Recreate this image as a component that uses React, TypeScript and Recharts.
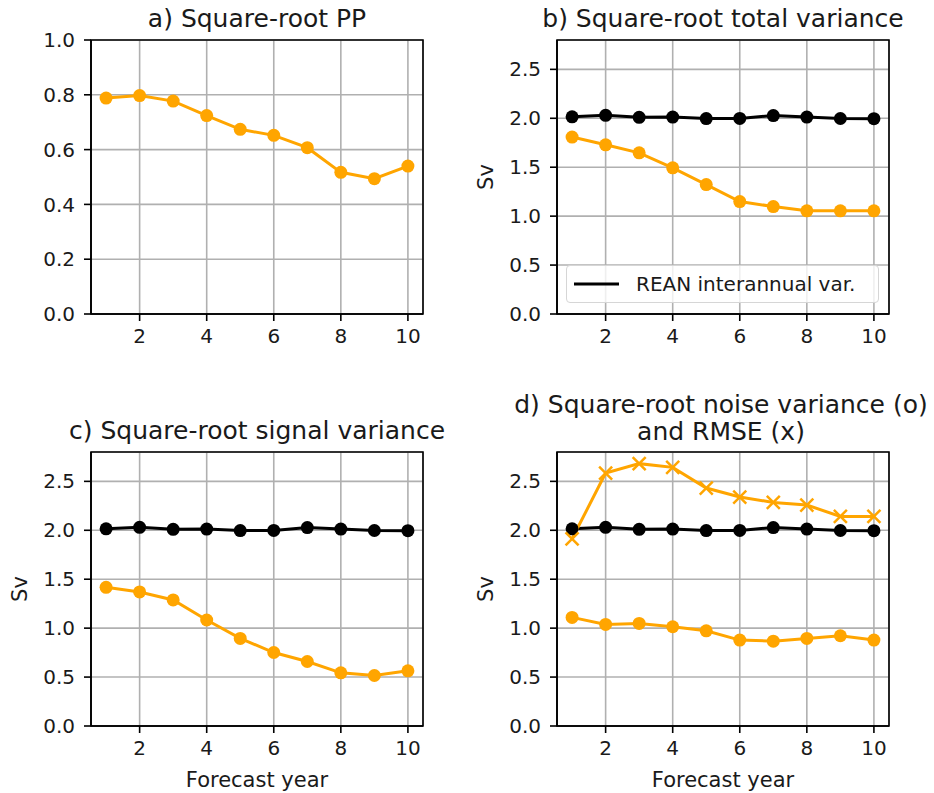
import React from 'react';
import { LineChart, Line, XAxis, YAxis, CartesianGrid, ReferenceArea } from 'recharts';

const years = [1, 2, 3, 4, 5, 6, 7, 8, 9, 10];
const sqrtPP = [0.788, 0.797, 0.777, 0.724, 0.674, 0.652, 0.607, 0.517, 0.494, 0.54];
const reanVar = [2.015, 2.03, 2.01, 2.012, 1.997, 1.999, 2.028, 2.012, 1.998, 1.996];
const totalVar = [1.808, 1.729, 1.647, 1.494, 1.323, 1.149, 1.098, 1.054, 1.054, 1.054];
const signalVar = [1.417, 1.37, 1.288, 1.083, 0.895, 0.751, 0.659, 0.543, 0.516, 0.564];
const noiseVar = [1.11, 1.038, 1.048, 1.014, 0.973, 0.878, 0.867, 0.895, 0.922, 0.878];
const rmse = [1.913, 2.585, 2.681, 2.643, 2.432, 2.34, 2.285, 2.258, 2.141, 2.141];

const xTicks = [2, 4, 6, 8, 10];
const ppTicks = [0, 0.2, 0.4, 0.6, 0.8, 1.0];
const svTicks = [0, 0.5, 1.0, 1.5, 2.0, 2.5];

const rows = years.map((y, i) => ({
  year: y,
  pp: sqrtPP[i],
  rean: reanVar[i],
  total: totalVar[i],
  signal: signalVar[i],
  noise: noiseVar[i],
  rmse: rmse[i],
}));

const ORANGE = '#ffa500';
const FONT = '"DejaVu Sans", sans-serif';
const W = 467;
const H = 381;

// 'x' marker used for the RMSE series
const XMark = (props: any) => {
  const { cx, cy, index } = props;
  if (cx == null || cy == null) return <g key={index} />;
  const s = 6.5;
  return (
    <g key={index}>
      <line x1={cx - s} y1={cy - s} x2={cx + s} y2={cy + s} stroke={ORANGE} strokeWidth={2.5} />
      <line x1={cx - s} y1={cy + s} x2={cx + s} y2={cy - s} stroke={ORANGE} strokeWidth={2.5} />
    </g>
  );
};

type SeriesDef = { key: string; color: string; cross?: boolean };

type PanelProps = {
  left: number;
  top: number;
  yMax: number;
  yTicks: number[];
  series: SeriesDef[];
  ylabel?: boolean;
  xlabel?: boolean;
};

const Panel = ({ left, top, yMax, yTicks, series, ylabel, xlabel }: PanelProps) => (
  <div style={{ position: 'absolute', left, top }}>
    <LineChart
      width={W}
      height={H}
      data={rows}
      margin={{ top: 40, right: 44, left: 0, bottom: 0 }}
      style={{ fontFamily: FONT }}
    >
      <CartesianGrid stroke="#b0b0b0" strokeWidth={1.6} />
      <XAxis
        dataKey="year"
        type="number"
        domain={[0.55, 10.45]}
        ticks={xTicks}
        interval={0}
        allowDataOverflow
        height={67}
        tickSize={7}
        tickMargin={8}
        axisLine={{ stroke: '#000', strokeWidth: 1.6 }}
        tickLine={{ stroke: '#000', strokeWidth: 1.6 }}
        tick={{ fill: '#1a1a1a', fontSize: 20 }}
        label={
          xlabel
            ? { value: 'Forecast year', position: 'insideBottom', offset: 6, fill: '#1a1a1a', fontSize: 21 }
            : undefined
        }
      />
      <YAxis
        type="number"
        domain={[0, yMax]}
        ticks={yTicks}
        interval={0}
        allowDataOverflow
        width={91}
        tickSize={7}
        tickMargin={9}
        tickFormatter={(v: number) => v.toFixed(1)}
        axisLine={{ stroke: '#000', strokeWidth: 1.6 }}
        tickLine={{ stroke: '#000', strokeWidth: 1.6 }}
        tick={{ fill: '#1a1a1a', fontSize: 20 }}
        label={
          ylabel
            ? {
                value: 'Sv',
                angle: -90,
                position: 'insideLeft',
                offset: 20,
                fill: '#1a1a1a',
                fontSize: 21,
                style: { textAnchor: 'middle' },
              }
            : undefined
        }
      />
      {series.map((s) => (
        <Line
          key={s.key}
          dataKey={s.key}
          stroke={s.color}
          strokeWidth={3}
          isAnimationActive={false}
          activeDot={false}
          dot={s.cross ? XMark : { r: 6.5, fill: s.color, stroke: s.color, strokeWidth: 0 }}
        />
      ))}
      <ReferenceArea x1={0.55} x2={10.45} y1={0} y2={yMax} fill="none" stroke="#000" strokeWidth={1.6} />
    </LineChart>
  </div>
);

const Title = ({ x, y, lines }: { x: number; y: number; lines: string[] }) => (
  <div
    style={{
      position: 'absolute',
      left: x,
      top: y,
      transform: 'translate(-50%, -50%)',
      fontFamily: FONT,
      fontSize: 25,
      lineHeight: '27px',
      color: '#1a1a1a',
      textAlign: 'center',
      whiteSpace: 'nowrap',
    }}
  >
    {lines.map((l) => (
      <div key={l}>{l}</div>
    ))}
  </div>
);

const ReanLegend = ({ left, top }: { left: number; top: number }) => (
  <div
    style={{
      position: 'absolute',
      left,
      top,
      width: 311,
      height: 36,
      border: '1px solid #d6d6d6',
      borderRadius: 4,
      background: 'rgba(255,255,255,0.8)',
      display: 'flex',
      alignItems: 'center',
      fontFamily: FONT,
      fontSize: 20,
      color: '#1a1a1a',
    }}
  >
    <svg width={62} height={10} style={{ marginLeft: 7 }}>
      <line x1={0} y1={5} x2={45} y2={5} stroke="#000" strokeWidth={3} />
    </svg>
    <span>REAN interannual var.</span>
  </div>
);

export default function App() {
  return (
    <div style={{ position: 'absolute', left: 0, top: 0, width: 934, height: 793, background: '#fff' }}>
      <Panel left={0} top={0} yMax={1.0} yTicks={ppTicks} series={[{ key: 'pp', color: ORANGE }]} />
      <Panel
        left={466}
        top={0}
        yMax={2.8}
        yTicks={svTicks}
        ylabel
        series={[
          { key: 'rean', color: '#000' },
          { key: 'total', color: ORANGE },
        ]}
      />
      <Panel
        left={0}
        top={412}
        yMax={2.8}
        yTicks={svTicks}
        ylabel
        xlabel
        series={[
          { key: 'rean', color: '#000' },
          { key: 'signal', color: ORANGE },
        ]}
      />
      <Panel
        left={466}
        top={412}
        yMax={2.8}
        yTicks={svTicks}
        ylabel
        xlabel
        series={[
          { key: 'rean', color: '#000' },
          { key: 'noise', color: ORANGE },
          { key: 'rmse', color: ORANGE, cross: true },
        ]}
      />
      <Title x={257} y={18} lines={['a) Square-root PP']} />
      <Title x={723} y={18} lines={['b) Square-root total variance']} />
      <Title x={257} y={430} lines={['c) Square-root signal variance']} />
      <Title x={721} y={418} lines={['d) Square-root noise variance (o)', 'and RMSE (x)']} />
      <ReanLegend left={566} top={265} />
    </div>
  );
}
